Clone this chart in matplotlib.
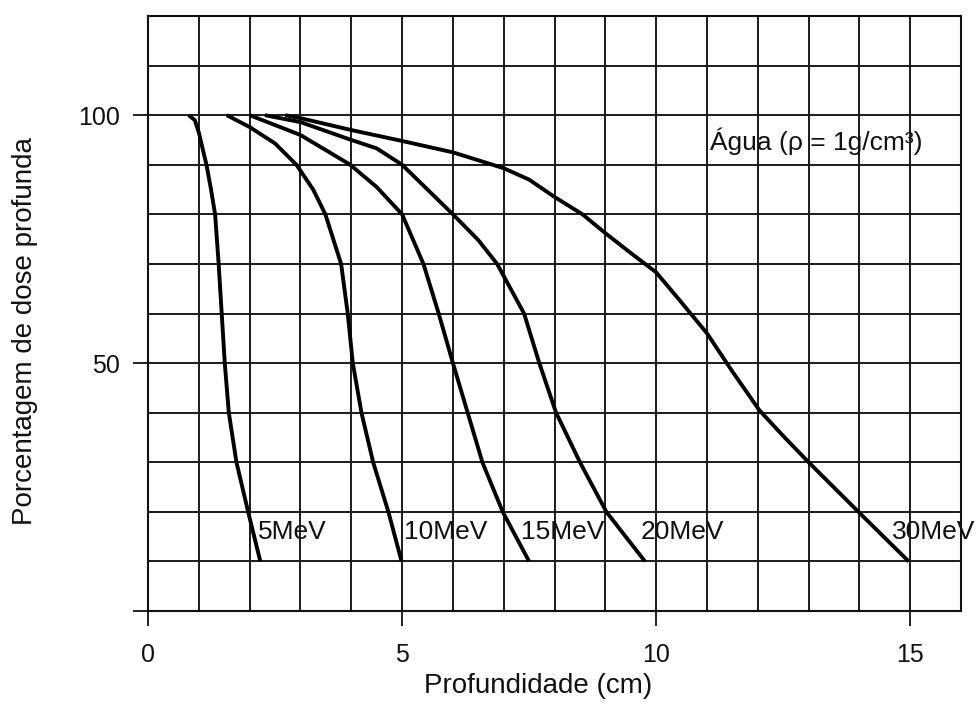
import matplotlib
matplotlib.use("Agg")
import matplotlib.pyplot as plt
from matplotlib.ticker import MultipleLocator, FixedLocator

plt.rcParams['font.family'] = ['Liberation Sans', 'DejaVu Sans']

# ---- data ----
labels = ['5MeV', '10MeV', '15MeV', '20MeV', '30MeV']

x_5 = [0.80, 0.92, 1.00, 1.08, 1.15, 1.24, 1.32, 1.39, 1.45, 1.51, 1.59, 1.74, 1.97, 2.21]
y_5 = [100, 99, 96.5, 93, 90, 85, 80, 70, 60, 50, 40, 30, 20, 10]

x_10 = [1.55, 2.0, 2.5, 2.92, 3.25, 3.49, 3.80, 3.93, 4.03, 4.20, 4.43, 4.73, 4.99]
y_10 = [100, 97.6, 94.3, 90, 85, 80, 70, 60, 50, 40, 30, 20, 10]

x_15 = [2.0, 3.0, 3.98, 4.5, 5.0, 5.42, 5.72, 6.0, 6.29, 6.58, 6.98, 7.5]
y_15 = [100, 96, 90, 85.5, 80, 70, 60, 50, 40, 30, 20, 10]

x_20 = [2.3, 3.0, 4.0, 4.5, 5.0, 5.5, 6.0, 6.5, 6.87, 7.4, 7.7, 8.03, 8.5, 9.02, 9.4, 9.78]
y_20 = [100, 98.6, 95, 93.3, 90, 85, 80, 74.8, 70, 60, 50, 40, 30, 20, 15, 10]

x_30 = [2.7, 3.0, 4.0, 5.0, 6.0, 7.0, 7.5, 8.0, 8.55, 9.0, 9.5, 10.0, 10.5, 11.0,
        11.5, 12.03, 12.5, 13.0, 14.0, 14.97]
y_30 = [100, 99.4, 97, 94.8, 92.5, 89.3, 87, 83.5, 80, 76.2, 72.2, 68.3, 62.2, 56,
        48.3, 40.5, 35.3, 30, 19.8, 10]

series_x = [x_5, x_10, x_15, x_20, x_30]
series_y = [y_5, y_10, y_15, y_20, y_30]

label_x = [2.16, 5.03, 7.33, 9.70, 14.64]
label_y = 16

x_ticks = [0, 5, 10, 15]
y_ticks = [0, 50, 100]
y_ticklabels = ['', '50', '100']

# ---- figure ----
fig = plt.figure(figsize=(9.79, 7.02), dpi=100)
ax = fig.add_axes([0.1512, 0.1296, 0.8305, 0.8476])

ax.set_xlim(0, 16)
ax.set_ylim(0, 120)

for xs, ys in zip(series_x, series_y):
    ax.plot(xs, ys, color='black', lw=2.8, solid_capstyle='butt',
            solid_joinstyle='round')

for lab, lx in zip(labels, label_x):
    ax.text(lx, label_y, lab, fontsize=19, ha='left', va='center', color='#111111')

ax.text(11.06, 94.8, 'Água (ρ = 1g/cm³)', fontsize=19, ha='left', va='center',
        color='#111111')

# grid
ax.xaxis.set_major_locator(FixedLocator(x_ticks))
ax.yaxis.set_major_locator(FixedLocator(y_ticks))
ax.set_yticklabels(y_ticklabels)
ax.xaxis.set_minor_locator(MultipleLocator(1))
ax.yaxis.set_minor_locator(MultipleLocator(10))
ax.grid(which='both', color='#1a1a1a', lw=1.4)
ax.set_axisbelow(True)

ax.tick_params(which='major', direction='out', length=11, width=1.3,
               labelsize=18, colors='#111111')
ax.tick_params(axis='x', which='major', pad=12)
ax.tick_params(axis='y', which='major', pad=9)
ax.tick_params(which='minor', length=0)

for sp in ax.spines.values():
    sp.set_linewidth(1.5)
    sp.set_color('#111111')

ax.set_xlabel('Profundidade (cm)', fontsize=20, color='#111111')
ax.xaxis.set_label_coords(0.48, -0.105)
ax.set_ylabel('Porcentagem de dose profunda', fontsize=20, color='#111111')
ax.yaxis.set_label_coords(-0.135, 0.47)

fig.savefig('out.png', dpi=100)
